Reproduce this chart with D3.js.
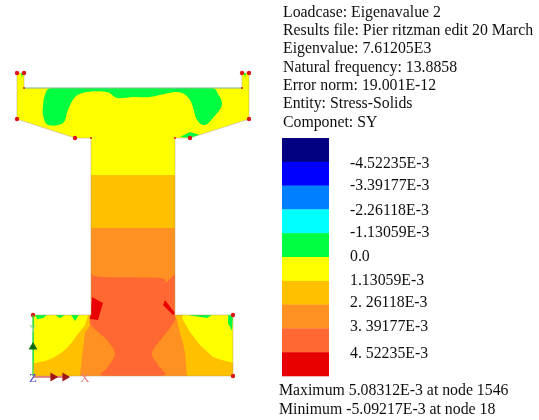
<!DOCTYPE html>
<html>
<head>
<meta charset="utf-8">
<script src="https://cdn.jsdelivr.net/npm/d3@7"></script>
<style>
html, body { margin: 0; padding: 0; background: #fff; }
svg { display: block; }
text { font-family: "Liberation Serif", serif; fill: #111; }
</style>
</head>
<body>
<svg id="chart" width="539" height="420"></svg>
<script>
const width = 539;
const height = 420;

// header and footer text
var headerLines = [
    "Loadcase: Eigenavalue 2",
    "Results file: Pier ritzman edit 20 March",
    "Eigenvalue: 7.61205E3",
    "Natural frequency: 13.8858",
    "Error norm: 19.001E-12",
    "Entity: Stress-Solids",
    "Componet: SY"
];
var footerLines = [
    "Maximum 5.08312E-3 at node 1546",
    "Minimum -5.09217E-3 at node 18"
];

// legend bands, top to bottom
var bandIds = d3.range(10);
var bandColors = ["#000080", "#0000ff", "#0080ff", "#00ffff", "#00ff40",
                  "#ffff00", "#ffc000", "#ff9020", "#ff6830", "#e80000"];
var bandLabels = ["-4.52235E-3", "-3.39177E-3", "-2.26118E-3", "-1.13059E-3", "0.0",
                  "1.13059E-3", "2. 26118E-3", "3. 39177E-3", "4. 52235E-3"];

// pier section and stress contours, in model units
var pierOutline = [[0,303],[7,303],[7,288],[225,288],[225,303],[232,303],[232,257],[173,238],[158,238],
                   [158,61],[216,61],[216,0],[16,0],[16,61],[74,61],[74,238],[58,238],[0,257]];
var amberZone = [[74,201],[158,201],[158,61],[165,61],[166,56],[173,44],[183,31],[196,19],[205,16],[216,13],[216,0],
                 [16,0],[16,13],[19,13],[28,15],[36,18],[44,23],[50,28],[56,35],[60,41],[65,47],[68,51],[71,61],[74,61]];
var orangeZone = [[74,148],[158,148],[158,61],[160,56],[163,43],[166,33],[168,23],[170,0],[63,0],[65,19],[68,43],
                  [73,51],[72,59],[74,61]];
var deepOrangeZone = [[74,101],[76,101],[86,99],[143,98],[148,93],[157,101],[158,101],[158,61],[159,58],
                      [153,48],[145,38],[135,23],[141,11],[145,0],[87,0],[90,8],[98,22],[90,36],[81,44],
                      [73,53],[74,61]];
var redZones = [
    [[75,79],[86,73],[81,56],[73,57]],
    [[148,76],[158,63],[156,61],[146,71]]
];
var greenZones = [
    [[34,288],[28,281],[26,270],[26,261],[31,251],[46,253],[51,266],[58,279],[70,284],[90,284],[100,278],[116,279],
     [133,279],[160,284],[173,276],[180,256],[188,251],[196,258],[205,271],[201,282],[195,288],[170,289],[110,289],[60,289]],
    [[163,239],[173,244],[183,241],[173,238]],
    [[18,61],[20,57],[26,58],[30,61]],
    [[38,61],[43,58],[48,61]],
    [[54,61],[58,55],[62,61]],
    [[171,61],[190,58],[195,61]],
    [[211,61],[211,53],[215,45],[216,61]],
    [[16,61],[17,61],[17,13],[16,13]],
    [[4,303],[6,303],[5,298]],
    [[227,303],[229,303],[228,298]]
];
var cornerNodes = [[0,303],[7,303],[225,303],[232,303],[0,257],[232,257],[58,238],[173,238],
                   [16,61],[216,61],[216,0],[7,288],[225,288],[74,238],[158,238]];

var svg = d3.select("#chart");

var x = d3.scaleLinear().domain([0, 232]).range([17, 249]);
var y = d3.scaleLinear().domain([0, 303]).range([376, 73]);

var line = d3.line().x(function (d) { return x(d[0]); }).y(function (d) { return y(d[1]); })
    .curve(d3.curveLinearClosed);
var smooth = d3.line().x(function (d) { return x(d[0]); }).y(function (d) { return y(d[1]); })
    .curve(d3.curveCardinalClosed);

var defs = svg.append("defs");
defs.append("clipPath").attr("id", "pier").append("path").attr("d", line(pierOutline));
defs.append("filter").attr("id", "soft").append("feGaussianBlur").attr("stdDeviation", 0.6);
defs.append("filter").attr("id", "softText").append("feGaussianBlur").attr("stdDeviation", 0.25);

var model = svg.append("g").attr("filter", "url(#soft)");
var fills = model.append("g").attr("clip-path", "url(#pier)");

fills.append("path").attr("d", line(pierOutline)).attr("fill", bandColors[5]);
fills.append("path").attr("d", line(amberZone)).attr("fill", bandColors[6]);
fills.append("path").attr("d", line(orangeZone)).attr("fill", bandColors[7]);
fills.append("path").attr("d", smooth(deepOrangeZone)).attr("fill", bandColors[8]);

redZones.forEach(function (d) {
    fills.append("path").attr("d", line(d)).attr("fill", bandColors[9]);
});
greenZones.forEach(function (d, i) {
    fills.append("path").attr("d", i == 0 ? smooth(d) : line(d)).attr("fill", bandColors[4]);
});

model.append("path")
    .attr("d", line(pierOutline))
    .attr("fill", "none")
    .attr("stroke", "#b5a060")
    .attr("stroke-opacity", 0.7)
    .attr("stroke-width", 0.7);

// deck soffit reads slightly cyan in the picture
model.append("line")
    .attr("x1", x(7)).attr("x2", x(225))
    .attr("y1", y(288)).attr("y2", y(288))
    .attr("stroke", "#70c8a0")
    .attr("stroke-width", 0.8);

model.selectAll(".node").data(cornerNodes).enter().append("circle")
    .attr("class", "node")
    .attr("cx", function (d) { return x(d[0]); })
    .attr("cy", function (d) { return y(d[1]); })
    .attr("r", function (d, i) { return i < 11 ? 2.2 : 1; })
    .attr("fill", "#dd1818");

// axis triad at the bottom left corner
var triad = model.append("g");
triad.append("line")
    .attr("x1", x(16)).attr("x2", x(16)).attr("y1", y(0)).attr("y2", y(61))
    .attr("stroke", "#30e040").attr("stroke-width", 1.2);
triad.append("path")
    .attr("d", d3.symbol().type(d3.symbolTriangle).size(34)())
    .attr("transform", "translate(" + x(16) + "," + y(29) + ")")
    .attr("fill", "#0a6a10");
triad.append("text")
    .attr("x", x(16)).attr("y", y(44))
    .attr("text-anchor", "middle")
    .attr("font-family", "Liberation Sans")
    .attr("font-size", 11)
    .style("fill", "#a8d8a8")
    .text("Y");
triad.append("line")
    .attr("x1", x(16)).attr("x2", x(50)).attr("y1", y(-1)).attr("y2", y(-1))
    .attr("stroke", "#cc2020").attr("stroke-width", 1.2);
[36, 48].forEach(function (d) {
    triad.append("path")
        .attr("d", d3.symbol().type(d3.symbolTriangle).size(34)())
        .attr("transform", "translate(" + x(d) + "," + y(-1) + ") rotate(90)")
        .attr("fill", "#a01818");
});
triad.append("text")
    .attr("x", x(68)).attr("y", y(-6))
    .attr("text-anchor", "middle")
    .attr("font-size", 13)
    .style("fill", "#e88080")
    .text("X");
triad.append("text")
    .attr("x", x(16)).attr("y", y(-6))
    .attr("text-anchor", "middle")
    .attr("font-size", 13)
    .style("fill", "#5050d0")
    .text("Z");

// legend
var band = d3.scaleBand().domain(bandIds).range([138, 376]);
var legend = svg.append("g").attr("filter", "url(#soft)");
legend.selectAll("rect").data(bandIds).enter().append("rect")
    .attr("x", 282)
    .attr("y", function (d) { return band(d); })
    .attr("width", 47)
    .attr("height", band.bandwidth() + 0.3)
    .attr("fill", function (d) { return bandColors[d]; });

var texts = svg.append("g").attr("filter", "url(#softText)");

// the labels do not sit at even steps in the picture
var labelBaselines = [168, 190, 215, 237, 261, 285, 307, 331, 358];
texts.selectAll(".band-label").data(bandLabels).enter().append("text")
    .attr("class", "band-label")
    .attr("x", 350)
    .attr("y", function (d, i) { return labelBaselines[i]; })
    .attr("font-size", 15.8)
    .text(function (d) { return d; });

var headerBaselines = [17, 35, 53, 72, 90, 108, 127];
texts.selectAll(".header").data(headerLines).enter().append("text")
    .attr("class", "header")
    .attr("x", 283)
    .attr("y", function (d, i) { return headerBaselines[i]; })
    .attr("font-size", 15.8)
    .text(function (d) { return d; });

var footerBaselines = [395, 414];
texts.selectAll(".footer").data(footerLines).enter().append("text")
    .attr("class", "footer")
    .attr("x", 279)
    .attr("y", function (d, i) { return footerBaselines[i]; })
    .attr("font-size", 15.8)
    .text(function (d) { return d; });
</script>
</body>
</html>
